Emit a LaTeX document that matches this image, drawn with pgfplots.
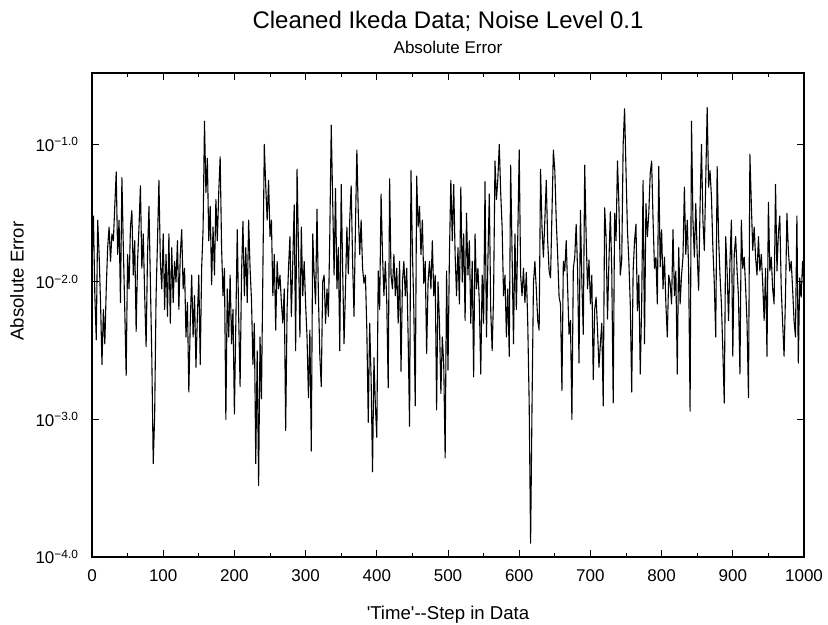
\documentclass[border=0pt]{standalone}
\usepackage{pgfplots}
\pgfplotsset{compat=1.18}
\usepackage{pgfplotstable}
\usepackage{fontspec}
\setmainfont{Liberation Sans}

\pgfplotstableread{
x y
0 -1.85
2 -1.52
4 -2.10
6 -2.42
8 -1.55
10 -1.80
12 -2.15
14 -2.60
16 -2.20
18 -2.45
20 -2.05
22 -1.75
24 -1.60
26 -1.85
28 -1.65
30 -1.70
32 -1.45
34 -1.20
36 -1.80
38 -1.55
40 -2.15
42 -1.24
44 -1.75
46 -2.20
48 -2.68
50 -1.80
52 -2.05
54 -1.60
56 -1.48
58 -1.95
60 -1.70
62 -2.36
64 -1.85
66 -1.60
68 -1.30
70 -1.90
72 -1.65
74 -2.10
76 -2.47
78 -1.80
80 -1.45
82 -2.00
84 -2.55
86 -3.32
88 -2.97
90 -2.10
92 -1.70
94 -1.26
96 -1.85
98 -2.05
100 -1.65
102 -2.20
104 -1.80
106 -2.25
108 -1.65
110 -2.30
112 -1.75
114 -2.15
116 -1.85
118 -2.00
120 -1.70
122 -2.20
124 -1.80
126 -1.62
128 -2.05
130 -1.90
132 -2.40
134 -2.15
136 -2.80
138 -2.30
140 -1.95
142 -2.40
144 -2.10
146 -2.62
148 -2.25
150 -1.95
152 -2.60
154 -1.90
156 -1.62
158 -0.83
160 -1.35
162 -1.10
164 -1.70
166 -1.45
168 -2.02
170 -1.60
172 -1.95
174 -1.40
176 -1.70
178 -1.35
180 -1.09
182 -1.75
184 -2.10
186 -1.90
188 -3.00
190 -2.05
192 -2.40
194 -1.95
196 -2.45
198 -2.20
200 -2.96
202 -2.30
204 -1.62
206 -2.25
208 -2.76
210 -1.95
212 -1.56
214 -2.10
216 -1.75
218 -2.15
220 -1.55
222 -1.90
224 -2.13
226 -2.60
228 -2.30
230 -3.32
232 -2.50
234 -3.48
236 -2.40
238 -2.85
240 -1.92
242 -1.00
244 -1.30
246 -1.55
248 -1.26
250 -1.67
252 -1.55
254 -2.10
256 -1.80
258 -2.35
260 -1.85
262 -2.05
264 -1.95
266 -2.15
268 -2.30
270 -2.05
272 -3.08
274 -2.20
276 -1.90
278 -1.67
280 -2.25
282 -1.85
284 -1.44
286 -2.50
288 -1.18
290 -1.75
292 -2.40
294 -1.60
296 -2.10
298 -1.85
300 -2.16
302 -2.40
304 -2.84
306 -2.35
308 -3.23
310 -1.65
312 -1.95
314 -2.16
316 -1.47
318 -2.10
320 -2.54
322 -2.76
324 -2.00
326 -1.95
328 -2.30
330 -2.05
332 -2.25
334 -1.65
336 -0.86
338 -1.40
340 -1.95
342 -1.32
344 -2.05
346 -1.75
348 -2.50
350 -1.29
352 -1.90
354 -2.45
356 -2.05
358 -1.60
360 -1.94
362 -1.55
364 -1.30
366 -1.85
368 -2.25
370 -1.60
372 -1.04
374 -1.50
376 -1.80
378 -1.55
380 -1.90
382 -2.01
384 -1.95
386 -2.35
388 -3.02
390 -2.30
392 -2.70
394 -3.38
396 -2.55
398 -2.90
400 -3.13
402 -1.92
404 -2.20
406 -1.36
408 -1.80
410 -2.10
412 -1.85
414 -2.15
416 -2.77
418 -1.25
420 -1.95
422 -2.05
424 -1.80
426 -2.10
428 -1.90
430 -2.30
432 -1.85
434 -2.65
436 -2.00
438 -1.85
440 -2.10
442 -1.90
444 -2.40
446 -3.05
448 -1.19
450 -1.77
452 -2.20
454 -2.90
456 -1.23
458 -1.60
460 -1.45
462 -1.80
464 -1.55
466 -2.01
468 -1.85
470 -2.52
472 -2.00
474 -1.85
476 -2.05
478 -1.70
480 -2.10
482 -1.95
484 -2.93
486 -2.00
488 -2.30
490 -2.81
492 -2.40
494 -2.60
496 -3.28
498 -1.92
500 -2.64
502 -1.80
504 -1.26
506 -1.70
508 -1.29
510 -1.80
512 -2.10
514 -1.75
516 -2.16
518 -1.31
520 -2.00
522 -1.65
524 -2.28
526 -1.50
528 -1.95
530 -1.70
532 -2.30
534 -1.85
536 -2.69
538 -1.65
540 -2.05
542 -1.90
544 -2.15
546 -2.67
548 -1.95
550 -2.30
552 -1.27
554 -2.40
556 -1.85
558 -1.36
560 -2.20
562 -2.50
564 -2.10
566 -1.12
568 -1.40
570 -1.25
572 -1.00
574 -1.35
576 -1.60
578 -2.10
580 -1.95
582 -2.40
584 -2.05
586 -2.54
588 -1.15
590 -1.80
592 -2.45
594 -1.65
596 -2.20
598 -1.67
600 -1.04
602 -1.95
604 -2.10
606 -1.90
608 -2.15
610 -1.93
612 -2.30
614 -2.88
616 -3.90
618 -2.90
620 -2.01
622 -1.85
624 -2.05
626 -2.28
628 -2.35
630 -1.18
632 -1.60
634 -1.82
636 -1.55
638 -1.26
640 -1.70
642 -1.92
644 -1.97
646 -1.50
648 -1.04
650 -1.19
652 -1.55
654 -1.80
656 -2.11
658 -2.16
660 -2.79
662 -1.85
664 -1.92
666 -1.70
668 -2.04
670 -2.38
672 -2.28
674 -3.00
676 -1.90
678 -1.82
680 -1.58
682 -1.92
684 -2.59
686 -1.48
688 -2.00
690 -2.38
692 -1.15
694 -1.67
696 -2.05
698 -1.84
700 -2.16
702 -1.95
704 -2.71
706 -2.20
708 -2.11
710 -2.35
712 -2.62
714 -2.45
716 -2.30
718 -2.90
720 -1.46
722 -1.67
724 -2.27
726 -1.85
728 -1.49
730 -1.92
732 -2.88
734 -1.50
736 -1.70
738 -1.12
740 -1.43
742 -1.95
744 -1.84
746 -1.00
748 -0.74
750 -1.19
752 -1.62
754 -1.85
756 -2.16
758 -2.80
760 -1.92
762 -1.70
764 -1.58
766 -2.21
768 -1.95
770 -2.67
772 -2.16
774 -1.26
776 -2.45
778 -1.43
780 -1.67
782 -1.50
784 -1.21
786 -1.12
788 -1.55
790 -1.90
792 -1.82
794 -2.16
796 -1.16
798 -1.89
800 -1.62
802 -2.05
804 -1.82
806 -2.16
808 -2.40
810 -1.95
812 -2.01
814 -2.16
816 -1.62
818 -2.10
820 -1.92
822 -2.67
824 -1.75
826 -2.16
828 -1.95
830 -1.82
832 -1.31
834 -1.80
836 -1.55
838 -1.92
840 -2.94
842 -0.83
844 -1.55
846 -1.82
848 -1.43
850 -1.80
852 -2.06
854 -1.45
856 -1.00
858 -1.55
860 -1.77
862 -1.26
864 -0.73
866 -1.31
868 -1.19
870 -1.38
872 -1.75
874 -2.01
876 -2.40
878 -1.16
880 -1.67
882 -1.95
884 -2.16
886 -2.50
888 -2.88
890 -1.67
892 -1.92
894 -2.28
896 -1.85
898 -1.55
900 -2.54
902 -1.80
904 -1.67
906 -1.92
908 -2.11
910 -2.67
912 -1.55
914 -1.90
916 -1.82
918 -2.04
920 -2.30
922 -2.84
924 -1.07
926 -1.43
928 -1.77
930 -1.60
932 -1.82
934 -1.95
936 -1.67
938 -1.92
940 -1.80
942 -2.01
944 -2.28
946 -1.90
948 -2.54
950 -1.42
952 -1.92
954 -1.82
956 -2.05
958 -2.16
960 -1.29
962 -1.92
964 -1.65
966 -1.52
968 -2.04
970 -2.30
972 -2.54
974 -2.10
976 -1.50
978 -1.77
980 -1.92
982 -1.85
984 -2.05
986 -2.28
988 -2.40
990 -1.52
992 -2.59
994 -1.97
996 -2.11
998 -1.85
1000 -2.01
}\errdata

\begin{document}
\begin{tikzpicture}
\useasboundingbox (-46pt,-34pt) rectangle (368pt,278.5pt);
\begin{axis}[
  at={(0,0)}, anchor=south west,
  scale only axis,
  width=356pt, height=242pt,
  xmin=0, xmax=1000,
  ymin=-4, ymax=-0.48,
  axis line style={line width=0.6pt},
  tick align=inside,
  xtick pos=both, ytick pos=both,
  xticklabel pos=lower, yticklabel pos=left,
  xtick={0,100,...,1000},
  xticklabels={0,100,200,300,400,500,600,700,800,900,1000},
  minor x tick num=1,
  ytick={-4,-3,-2,-1},
  yticklabels={10\textsuperscript{−4.0},10\textsuperscript{−3.0},10\textsuperscript{−2.0},10\textsuperscript{−1.0}},
  major tick length=3.5pt, minor tick length=2pt,
  every tick/.style={black, line width=0.5pt},
  tick label style={font=\fontsize{8.5}{10}\selectfont},
  xticklabel style={yshift=-3pt},
  yticklabel style={xshift=-3pt},
  clip=true,
]
\addplot[black, line width=0.55pt, line join=round] table[x=x, y=y] {\errdata};
\end{axis}
\node[font=\fontsize{12}{14}\selectfont] at (178pt,268pt) {Cleaned Ikeda Data; Noise Level 0.1};
\node[font=\fontsize{8.5}{10}\selectfont] at (178pt,255pt) {Absolute Error};
\node[font=\fontsize{9.3}{11}\selectfont] at (178pt,-29pt) {\textquotesingle Time\textquotesingle{-}{-}Step in Data};
\node[font=\fontsize{9.3}{11}\selectfont, rotate=90] at (-37.5pt,138pt) {Absolute Error};
\end{tikzpicture}
\end{document}
